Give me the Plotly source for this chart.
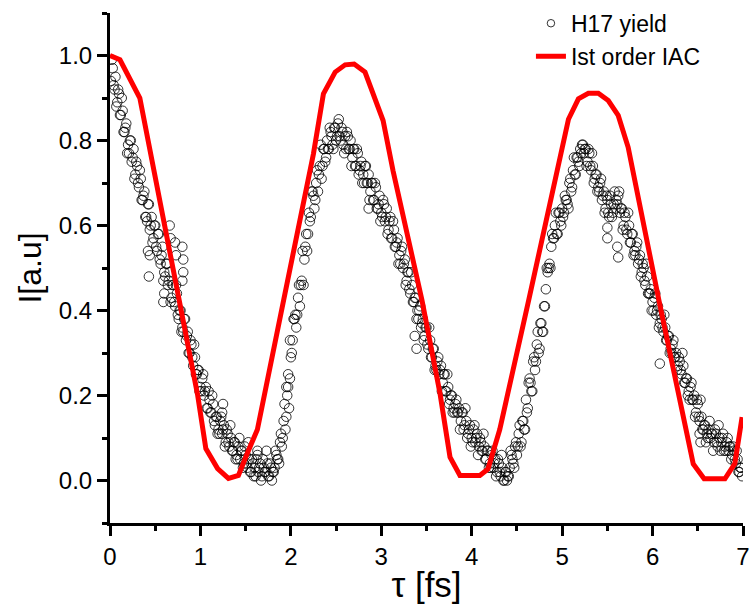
import numpy as np
import plotly.graph_objects as go

# ---- H17 yield ----
# pass A on the even delay grid 0.02 ... 6.98 fs
tau_h17_a = np.round(np.arange(0.02, 6.99, 0.02), 2)
yield_h17_a = [
    0.99, 0.93, 0.95, 0.89, 0.91, 0.86, 0.87, 0.82, 0.84, 0.79,
    0.80, 0.75, 0.78, 0.72, 0.74, 0.69, 0.71, 0.66, 0.68, 0.62,
    0.65, 0.59, 0.62, 0.57, 0.60, 0.54, 0.58, 0.51, 0.55, 0.49,
    0.51, 0.46, 0.49, 0.43, 0.46, 0.41, 0.44, 0.38, 0.40, 0.36,
    0.38, 0.33, 0.35, 0.30, 0.32, 0.27, 0.29, 0.25, 0.26, 0.22,
    0.24, 0.20, 0.22, 0.17, 0.19, 0.16, 0.18, 0.13, 0.15, 0.12,
    0.14, 0.11, 0.13, 0.09, 0.11, 0.08, 0.10, 0.07, 0.09, 0.06,
    0.08, 0.05, 0.07, 0.04, 0.06, 0.03, 0.05, 0.02, 0.04, 0.03,
    0.05, 0.02, 0.04, 0.01, 0.03, 0.02, 0.04, 0.01, 0.03, 0.02,
    0.03, 0.06, 0.05, 0.09, 0.08, 0.14, 0.12, 0.20, 0.17, 0.29,
    0.33, 0.38, 0.36, 0.43, 0.41, 0.47, 0.46, 0.55, 0.54, 0.63,
    0.62, 0.68, 0.64, 0.70, 0.68, 0.74, 0.71, 0.78, 0.75, 0.80,
    0.78, 0.82, 0.79, 0.83, 0.80, 0.84, 0.81, 0.83, 0.79, 0.81,
    0.82, 0.78, 0.80, 0.76, 0.78, 0.74, 0.77, 0.73, 0.75, 0.72,
    0.74, 0.70, 0.72, 0.68, 0.70, 0.66, 0.69, 0.64, 0.67, 0.63,
    0.66, 0.61, 0.64, 0.59, 0.62, 0.57, 0.59, 0.55, 0.57, 0.53,
    0.54, 0.50, 0.52, 0.47, 0.49, 0.44, 0.46, 0.42, 0.43, 0.40,
    0.40, 0.36, 0.38, 0.34, 0.36, 0.31, 0.33, 0.29, 0.31, 0.27,
    0.28, 0.25, 0.27, 0.23, 0.25, 0.21, 0.22, 0.19, 0.20, 0.17,
    0.18, 0.16, 0.17, 0.14, 0.16, 0.13, 0.14, 0.11, 0.13, 0.10,
    0.12, 0.09, 0.11, 0.08, 0.09, 0.07, 0.08, 0.05, 0.07, 0.04,
    0.06, 0.03, 0.05, 0.02, 0.04, 0.01, 0.03, 0.00, 0.02, 0.01,
    0.03, 0.06, 0.04, 0.08, 0.06, 0.11, 0.08, 0.14, 0.12, 0.19,
    0.17, 0.24, 0.21, 0.28, 0.26, 0.32, 0.30, 0.37, 0.35, 0.41,
    0.45, 0.49, 0.51, 0.55, 0.57, 0.60, 0.58, 0.63, 0.61, 0.64,
    0.63, 0.66, 0.65, 0.70, 0.68, 0.73, 0.72, 0.76, 0.75, 0.78,
    0.79, 0.77, 0.78, 0.75, 0.77, 0.73, 0.74, 0.71, 0.72, 0.69,
    0.70, 0.66, 0.68, 0.64, 0.66, 0.62, 0.65, 0.63, 0.68, 0.66,
    0.67, 0.63, 0.64, 0.60, 0.62, 0.58, 0.60, 0.56, 0.58, 0.54,
    0.55, 0.51, 0.53, 0.49, 0.50, 0.46, 0.48, 0.44, 0.45, 0.42,
    0.43, 0.39, 0.41, 0.37, 0.38, 0.35, 0.36, 0.33, 0.34, 0.31,
    0.32, 0.29, 0.30, 0.27, 0.28, 0.25, 0.27, 0.23, 0.24, 0.21,
    0.22, 0.19, 0.20, 0.16, 0.18, 0.14, 0.15, 0.12, 0.13, 0.11,
    0.12, 0.10, 0.11, 0.09, 0.11, 0.08, 0.10, 0.09, 0.11, 0.08,
    0.09, 0.07, 0.08, 0.06, 0.07, 0.04, 0.05, 0.02, 0.03,
]

# pass B on the odd delay grid 0.01 ... 6.99 fs
tau_h17_b = np.round(np.arange(0.01, 7.0, 0.02), 2)
yield_h17_b = [
    0.94, 0.97, 0.92, 0.88, 0.92, 0.86, 0.90, 0.82, 0.83, 0.77,
    0.77, 0.80, 0.76, 0.71, 0.75, 0.70, 0.73, 0.66, 0.67, 0.62,
    0.61, 0.65, 0.60, 0.56, 0.60, 0.55, 0.58, 0.52, 0.53, 0.47,
    0.48, 0.51, 0.47, 0.42, 0.46, 0.42, 0.46, 0.39, 0.40, 0.35,
    0.35, 0.38, 0.34, 0.30, 0.33, 0.29, 0.32, 0.25, 0.26, 0.21,
    0.21, 0.25, 0.21, 0.17, 0.21, 0.16, 0.20, 0.14, 0.15, 0.11,
    0.11, 0.15, 0.12, 0.08, 0.12, 0.09, 0.13, 0.07, 0.09, 0.05,
    0.05, 0.10, 0.07, 0.03, 0.08, 0.04, 0.09, 0.02, 0.05, 0.01,
    0.01, 0.06, 0.03, 0.00, 0.05, 0.02, 0.07, 0.01, 0.04, 0.00,
    0.02, 0.07, 0.05, 0.04, 0.11, 0.10, 0.18, 0.15, 0.22, 0.24,
    0.30, 0.38, 0.39, 0.39, 0.46, 0.46, 0.54, 0.52, 0.58, 0.58,
    0.61, 0.68, 0.67, 0.66, 0.73, 0.72, 0.79, 0.74, 0.78, 0.76,
    0.78, 0.83, 0.81, 0.78, 0.83, 0.81, 0.85, 0.80, 0.82, 0.77,
    0.78, 0.81, 0.78, 0.74, 0.78, 0.74, 0.78, 0.72, 0.74, 0.70,
    0.70, 0.74, 0.70, 0.66, 0.70, 0.66, 0.70, 0.64, 0.65, 0.61,
    0.62, 0.65, 0.62, 0.58, 0.61, 0.57, 0.61, 0.55, 0.56, 0.51,
    0.51, 0.55, 0.51, 0.46, 0.49, 0.45, 0.49, 0.42, 0.43, 0.38,
    0.38, 0.41, 0.37, 0.33, 0.36, 0.32, 0.36, 0.29, 0.31, 0.26,
    0.26, 0.29, 0.26, 0.21, 0.25, 0.21, 0.25, 0.18, 0.20, 0.16,
    0.16, 0.19, 0.16, 0.12, 0.16, 0.12, 0.17, 0.10, 0.12, 0.08,
    0.09, 0.13, 0.10, 0.06, 0.10, 0.07, 0.11, 0.05, 0.07, 0.03,
    0.03, 0.07, 0.04, 0.01, 0.05, 0.02, 0.06, 0.00, 0.02, 0.00,
    0.01, 0.07, 0.05, 0.03, 0.09, 0.08, 0.13, 0.09, 0.14, 0.12,
    0.16, 0.23, 0.23, 0.21, 0.29, 0.28, 0.35, 0.31, 0.37, 0.35,
    0.41, 0.50, 0.50, 0.50, 0.58, 0.57, 0.63, 0.58, 0.63, 0.60,
    0.62, 0.67, 0.66, 0.64, 0.71, 0.69, 0.76, 0.72, 0.76, 0.74,
    0.77, 0.79, 0.78, 0.74, 0.78, 0.74, 0.77, 0.70, 0.72, 0.68,
    0.68, 0.71, 0.67, 0.63, 0.67, 0.63, 0.67, 0.62, 0.65, 0.64,
    0.65, 0.68, 0.64, 0.59, 0.63, 0.59, 0.63, 0.56, 0.58, 0.53,
    0.53, 0.56, 0.52, 0.48, 0.51, 0.47, 0.51, 0.44, 0.44, 0.40,
    0.40, 0.44, 0.40, 0.36, 0.39, 0.36, 0.39, 0.33, 0.34, 0.30,
    0.30, 0.33, 0.29, 0.26, 0.29, 0.26, 0.30, 0.23, 0.24, 0.20,
    0.19, 0.23, 0.19, 0.15, 0.19, 0.15, 0.19, 0.12, 0.13, 0.09,
    0.10, 0.14, 0.11, 0.07, 0.12, 0.09, 0.13, 0.07, 0.10, 0.07,
    0.07, 0.10, 0.08, 0.05, 0.08, 0.05, 0.07, 0.02, 0.03, 0.01,
]

# scattered outlying H17 points
tau_out = [0.42, 0.43, 0.44, 0.59, 0.60, 0.66, 0.67, 0.72, 0.73, 0.80, 0.81, 0.81, 0.80,
           1.24, 1.25, 1.63, 1.95, 1.97, 1.99, 2.86, 3.37, 3.39, 5.50, 5.50, 5.61, 5.62,
           6.08, 6.52, 6.53]
yield_out = [0.54, 0.48, 0.53, 0.42, 0.44, 0.60, 0.57, 0.56, 0.53, 0.55, 0.52, 0.49, 0.47,
             0.16, 0.18, 0.07, 0.22, 0.25, 0.33, 0.64, 0.34, 0.31, 0.57, 0.595, 0.55, 0.525,
             0.275, 0.11, 0.09]

# ---- 1st order IAC (red curve) ----
tau_iac = [0.00, 0.11, 0.33, 0.55, 0.77, 0.97, 1.06, 1.19, 1.31, 1.42, 1.53, 1.63, 1.92,
           2.25, 2.36, 2.49, 2.60, 2.70, 2.82, 2.93, 3.02, 3.13, 3.45, 3.65, 3.76, 3.87,
           4.09, 4.18, 4.31, 4.63, 5.07, 5.18, 5.29, 5.40, 5.51, 5.62, 5.73, 6.07, 6.34,
           6.45, 6.57, 6.80, 6.91, 6.99]
I_iac = [1.00, 0.99, 0.90, 0.66, 0.42, 0.20, 0.075, 0.028, 0.005, 0.012, 0.07, 0.12, 0.424,
         0.769, 0.91, 0.961, 0.978, 0.98, 0.961, 0.902, 0.847, 0.729, 0.424, 0.204, 0.055, 0.012,
         0.012, 0.027, 0.12, 0.424, 0.85, 0.898, 0.911, 0.911, 0.894, 0.859, 0.784, 0.424, 0.14,
         0.039, 0.004, 0.004, 0.04, 0.149]

x_ticks = [0, 1, 2, 3, 4, 5, 6, 7]
y_ticks = [0.0, 0.2, 0.4, 0.6, 0.8, 1.0]

FONT = "Liberation Sans, Arial, sans-serif"

tau_all = list(tau_h17_a) + list(tau_h17_b) + tau_out
yield_all = yield_h17_a + yield_h17_b + yield_out

fig = go.Figure()
fig.add_trace(go.Scatter(
    x=tau_all, y=yield_all,
    mode="markers", name="H17 yield", showlegend=False, legendgroup="h17",
    marker=dict(symbol="circle-open", size=9.5, color="black", line=dict(width=0.8)),
))
# legend-only entry with the small legend symbol
fig.add_trace(go.Scatter(
    x=[None], y=[None],
    mode="markers", name="H17 yield", legendgroup="h17",
    marker=dict(symbol="circle-open", size=7.5, color="black", line=dict(width=0.8)),
))
fig.add_trace(go.Scatter(
    x=tau_iac, y=I_iac, mode="lines", name="Ist order IAC",
    line=dict(color="#ff0000", width=5),
))

axis_common = dict(
    showline=True, linecolor="black", linewidth=3,
    ticks="outside", ticklen=10, tickwidth=3, tickcolor="black",
    showgrid=False, zeroline=False, mirror=False,
    tickfont=dict(family=FONT, size=24, color="black"),
)

fig.update_xaxes(
    range=[0, 7], tickvals=x_ticks, ticktext=[str(v) for v in x_ticks],
    minor=dict(ticks="outside", ticklen=5, tickwidth=3, tickcolor="black", dtick=0.5, tick0=0),
    title=dict(text="τ [fs]", font=dict(family=FONT, size=35, color="black"), standoff=4),
    **axis_common,
)
fig.update_yaxes(
    range=[-0.1, 1.1], tickvals=y_ticks, ticktext=[f"{v:.1f}" for v in y_ticks],
    minor=dict(ticks="outside", ticklen=5, tickwidth=3, tickcolor="black", dtick=0.1, tick0=0),
    title=dict(text="I[a.u]", font=dict(family=FONT, size=32, color="black"), standoff=8),
    **axis_common,
)

fig.update_layout(
    width=750, height=611,
    margin=dict(l=110, r=7, t=13, b=88, autoexpand=False),
    plot_bgcolor="white", paper_bgcolor="white",
    legend=dict(
        x=0.665, y=1.022, xanchor="left", yanchor="top",
        bgcolor="rgba(0,0,0,0)", font=dict(family=FONT, size=23, color="black"),
        itemwidth=30, tracegroupgap=0,
    ),
    showlegend=True,
)

fig.write_html("out.html")
